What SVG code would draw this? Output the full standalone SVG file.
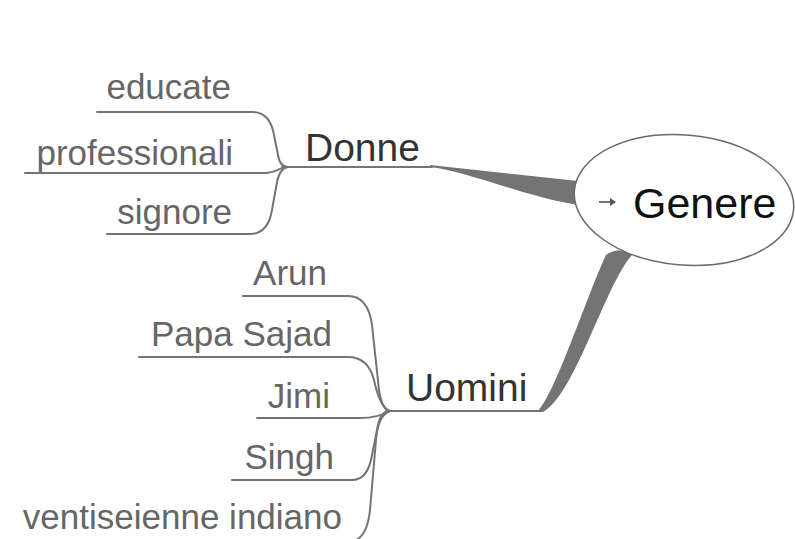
<svg xmlns="http://www.w3.org/2000/svg" width="795" height="539" viewBox="0 0 795 539">
<style>
.ln{fill:none;stroke:#747474;stroke-width:2;stroke-linecap:round}
.band{fill:#747474;stroke:none}
.leaf{font-family:"Liberation Sans",Arial,sans-serif;font-size:35px;fill:#666;text-anchor:end}
.mid{font-family:"Liberation Sans",Arial,sans-serif;font-size:39px;fill:#333}
.root{font-family:"Liberation Sans",Arial,sans-serif;font-size:43px;fill:#111}
</style>
<rect width="795" height="539" fill="#fff"/>
<g id="connectors">
  <path class="band" d="M 430 165 L 578 181 L 578 205 C 520 195, 470 172, 430 167 Z"/>
  <path class="band" d="M 537 412 C 555 395, 585 300, 606 255 Q 618 246, 632 255 C 605 285, 575 395, 543 412 Z"/>
  <path class="ln" d="M 282 167 H 432"/>
  <path class="ln" d="M 97 112 H 252 Q 270 112 274 135 L 278 155 Q 280 167 288 167"/>
  <path class="ln" d="M 25 173 H 265 C 275 173, 279 168, 286 167"/>
  <path class="ln" d="M 107 234 H 250 Q 268 234 272 210 L 277 182 Q 280 168 288 167"/>
  <path class="ln" d="M 386 411 H 541"/>
  <path class="ln" d="M 243 296 H 348 Q 368 296 372 325 L 379 390 Q 382 410 390 411"/>
  <path class="ln" d="M 139 357 H 348 Q 368 357 374 380 Q 380 408 390 411"/>
  <path class="ln" d="M 257 418 H 360 Q 378 418 390 411"/>
  <path class="ln" d="M 232 480 H 352 Q 368 480 372 455 L 378 425 Q 381 411 390 411"/>
  <path class="ln" d="M 390 411 Q 378 415 376 440 L 370 510 Q 367 540 350 542 H 20"/>
</g>
<g id="genere">
  <ellipse cx="684" cy="200" rx="110" ry="65" transform="rotate(5 684 200)" fill="#fff" stroke="#6a6a6a" stroke-width="1.5"/>
  <path d="M 599 202 H 612" stroke="#555" stroke-width="1.6" fill="none"/>
  <path d="M 610 198 L 616 202 L 610 206 Z" fill="#555"/>
  <text class="root" x="633" y="218">Genere</text>
</g>
<g id="donne"><text class="mid" x="305" y="161">Donne</text></g>
<g id="uomini"><text class="mid" x="406" y="401">Uomini</text></g>
<g id="educate"><text class="leaf" x="231" y="99">educate</text></g>
<g id="professionali"><text class="leaf" x="233" y="165">professionali</text></g>
<g id="signore"><text class="leaf" x="232" y="224">signore</text></g>
<g id="arun"><text class="leaf" x="327" y="285">Arun</text></g>
<g id="papa-sajad"><text class="leaf" x="332" y="346">Papa Sajad</text></g>
<g id="jimi"><text class="leaf" x="330" y="408">Jimi</text></g>
<g id="singh"><text class="leaf" x="334" y="469">Singh</text></g>
<g id="ventiseienne"><text class="leaf" x="342" y="529">ventiseienne indiano</text></g>
</svg>
